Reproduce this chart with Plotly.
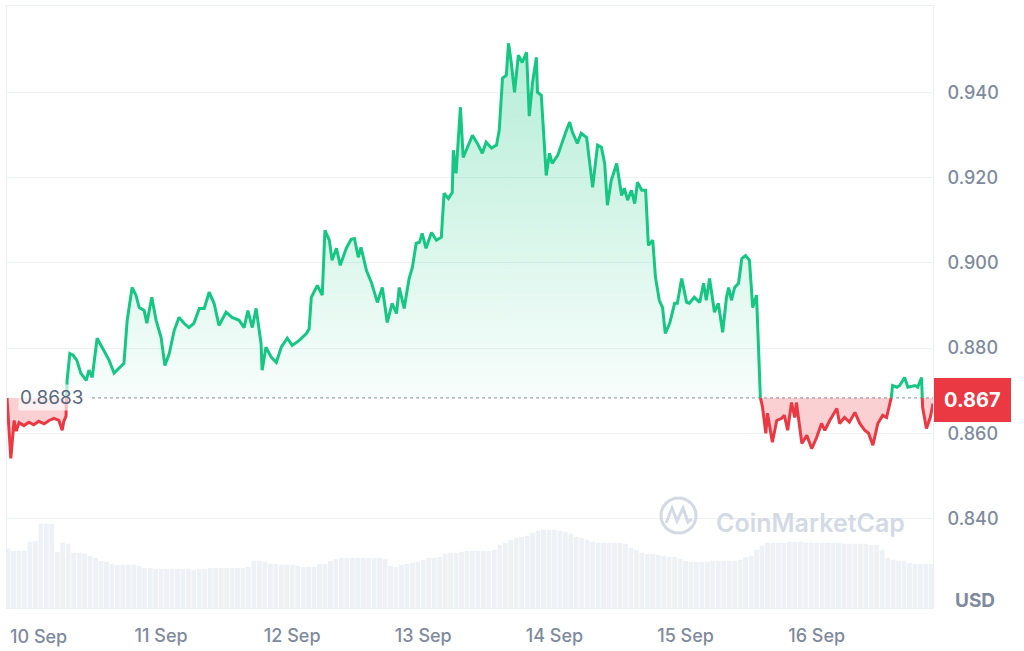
import pandas as pd
import plotly.graph_objects as go

# ---------------- data ----------------
# hours relative to 10 Sep 00:00 and price in USD
price_hours = [
    -4.2, -3.8, -3.5, -2.9, -2.5, -2.0, -1.1, -0.2, 0.7, 1.6, 2.6, 3.5, 4.4, 5.3, 5.9, 6.2, 6.6,
    6.8, 7.3, 7.9, 8.6, 9.3, 10.3, 10.8, 11.4, 12.3, 13.2, 13.9, 14.5, 15.4, 16.3, 17.2, 17.8,
    18.7, 19.4, 20.0, 20.9, 21.4, 22.3, 23.1, 24.0, 24.7, 25.5, 26.4, 27.3, 28.2, 29.1, 30.0,
    31.0, 31.9, 32.8, 33.7, 34.6, 35.9, 37.0, 38.3, 39.2, 39.9, 40.7, 41.4, 42.3, 42.5, 43.2,
    44.2, 45.1, 46.0, 47.1, 48.0, 49.3, 50.6, 51.1, 51.5, 52.6, 53.5, 54.0, 54.8, 55.3, 56.1,
    56.8, 57.9, 58.8, 59.4, 60.1, 60.6, 61.6, 62.5, 63.6, 64.5, 65.4, 66.3, 67.1, 67.6, 68.5,
    69.4, 70.0, 70.7, 71.3, 71.8, 72.5, 73.5, 74.4, 75.3, 75.8, 76.6, 77.3, 77.5, 78.0, 78.8,
    79.3, 80.1, 81.0, 81.9, 82.8, 83.5, 84.5, 85.4, 85.9, 86.5, 87.2, 87.6, 88.1, 88.7, 89.4,
    90.1, 90.9, 91.4, 92.0, 92.7, 92.9, 93.6, 94.5, 95.1, 95.6, 96.6, 97.5, 98.2, 98.8, 99.3,
    100.2, 100.9, 101.9, 103.0, 103.9, 104.6, 105.2, 105.7, 106.4, 107.4, 108.3, 108.8, 109.4,
    110.1, 110.7, 111.2, 112.0, 112.7, 113.2, 114.0, 114.5, 115.2, 115.8, 116.3, 117.1, 118.0,
    118.5, 119.3, 120.2, 120.7, 121.6, 122.6, 123.3, 123.8, 124.4, 125.3, 126.0, 126.8, 127.5,
    127.9, 128.4, 129.0, 129.7, 130.3, 131.0, 131.7, 132.3, 133.0, 133.7, 134.1, 134.7, 135.0,
    135.9, 136.7, 137.6, 138.1, 138.7, 139.4, 140.0, 140.3, 141.3, 142.2, 143.1, 144.0, 144.9,
    145.5, 146.4, 147.7, 148.2, 149.1, 150.0, 151.0, 151.9, 152.8, 153.5, 154.3, 155.2, 156.1,
    156.8, 157.6, 157.9, 158.7, 159.2, 160.1, 160.7, 162.0, 162.5, 163.2, 163.4, 164.1, 164.8,
    165.3,
]
prices = [
    0.8683, 0.8600, 0.8541, 0.8630, 0.8605, 0.8625, 0.8618, 0.8626, 0.8620, 0.8628, 0.8622, 0.8630, 0.8635, 0.8630, 0.8607, 0.8628, 0.8640,
    0.8724, 0.8787, 0.8783, 0.8771, 0.8741, 0.8724, 0.8748, 0.8731, 0.8823, 0.8802, 0.8787, 0.8771, 0.8741, 0.8752, 0.8764, 0.8865,
    0.8942, 0.8924, 0.8895, 0.8888, 0.8858, 0.8919, 0.8865, 0.8825, 0.8759, 0.8787, 0.8841, 0.8872, 0.8858, 0.8848, 0.8858,
    0.8893, 0.8893, 0.8931, 0.8905, 0.8853, 0.8884, 0.8872, 0.8865, 0.8848, 0.8888, 0.8848, 0.8893, 0.8811, 0.8748, 0.8802,
    0.8778, 0.8766, 0.8802, 0.8823, 0.8806, 0.8818, 0.8834, 0.8845, 0.8919, 0.8947, 0.8924, 0.9076, 0.9053, 0.9006, 0.9034,
    0.8994, 0.9034, 0.9055, 0.9057, 0.9013, 0.9036, 0.8982, 0.8954, 0.8907, 0.8942, 0.8860, 0.8905, 0.8881, 0.8942, 0.8893,
    0.8963, 0.8989, 0.9046, 0.9048, 0.9069, 0.9034, 0.9071, 0.9053, 0.9060, 0.9163, 0.9151, 0.9165, 0.9264, 0.9210, 0.9365,
    0.9247, 0.9271, 0.9299, 0.9280, 0.9257, 0.9283, 0.9269, 0.9276, 0.9311, 0.9433, 0.9440, 0.9515, 0.9470, 0.9400, 0.9487,
    0.9470, 0.9494, 0.9344, 0.9423, 0.9482, 0.9400, 0.9393, 0.9205, 0.9257, 0.9233, 0.9252, 0.9287, 0.9311, 0.9330, 0.9306,
    0.9280, 0.9304, 0.9294, 0.9177, 0.9276, 0.9271, 0.9233, 0.9135, 0.9193, 0.9233, 0.9158, 0.9175, 0.9147,
    0.9170, 0.9139, 0.9189, 0.9170, 0.9170, 0.9041, 0.9053, 0.8966, 0.8912, 0.8895, 0.8834, 0.8858, 0.8905,
    0.8905, 0.8963, 0.8907, 0.8905, 0.8919, 0.8907, 0.8952, 0.8912, 0.8963, 0.8884, 0.8905, 0.8837, 0.8919,
    0.8942, 0.8912, 0.8942, 0.8952, 0.9010, 0.9017, 0.9006, 0.8895, 0.8924, 0.8684, 0.8661, 0.8600, 0.8647,
    0.8579, 0.8630, 0.8635, 0.8642, 0.8607, 0.8672, 0.8637, 0.8672, 0.8576, 0.8595, 0.8564, 0.8590, 0.8623,
    0.8607, 0.8630, 0.8658, 0.8623, 0.8637, 0.8626, 0.8649, 0.8623, 0.8607, 0.8600, 0.8572, 0.8623, 0.8642,
    0.8637, 0.8677, 0.8712, 0.8708, 0.8712, 0.8731, 0.8708, 0.8712, 0.8708, 0.8731, 0.8661, 0.8611, 0.8637,
    0.8670,
]
baseline_price = 0.8683
start_day = "2024-09-10"

# hourly volume bars (hour offset from 10 Sep 00:00), relative units
vol_hours = list(range(-4, 166))
volumes = [
    59, 57, 57, 57, 66, 67, 84, 84, 84, 56, 65, 64, 55, 55, 54, 52, 50, 47, 46,
    44, 43, 43, 43, 43, 42,
    40, 40, 39, 39, 39, 39, 39, 39, 39, 38, 39, 39,
    40, 40, 40, 40, 40, 40, 40, 41,
    47, 47, 46, 44, 44, 43, 43, 43, 42, 41, 41, 41, 44, 44,
    47, 49, 50, 50, 50, 50, 50, 50, 50, 50, 49,
    42, 41, 43, 44, 45, 46, 48, 50, 50, 51, 54, 55, 55,
    56, 57, 57, 57, 57, 57, 58, 63, 65, 68, 70, 71, 72,
    75, 77, 78, 78, 78, 77, 76, 74, 71, 70, 68,
    66, 65, 65, 65, 65, 65, 64, 60, 58, 55, 54, 54, 53, 52, 51, 51, 49,
    47, 46, 46, 46, 46, 47, 47, 47, 47, 47, 48, 51, 52, 58, 62,
    65, 65, 65, 65, 66, 66, 66, 65, 65, 65,
    65, 65, 65, 65, 64, 64, 64, 64, 64, 63, 63,
    58, 50, 48, 47, 47, 45, 44, 44, 44, 44,
]
assert len(vol_hours) == len(volumes)
assert len(price_hours) == len(prices)

day_ticks = ["2024-09-10", "2024-09-11", "2024-09-12", "2024-09-13",
             "2024-09-14", "2024-09-15", "2024-09-16"]
day_labels = ["10 Sep", "11 Sep", "12 Sep", "13 Sep", "14 Sep", "15 Sep", "16 Sep"]
price_ticks = [0.84, 0.86, 0.88, 0.90, 0.92, 0.94]
price_tick_labels = ["0.840", "0.860", "0.880", "0.900", "0.920", "0.940"]

# ---------------- styling ----------------
GREEN = "#16C784"
RED = "#EA3943"
GRID = "#EFF2F5"
TICK = "#808A9D"
FONT = "Inter"

t0 = pd.Timestamp(start_day)
def to_time(h):
    return t0 + pd.to_timedelta(h, unit="h")

# insert baseline crossings so colours switch exactly at the baseline
xs, ys = [price_hours[0]], [prices[0]]
for i in range(1, len(prices)):
    h0, p0 = price_hours[i - 1], prices[i - 1]
    h1, p1 = price_hours[i], prices[i]
    if (p0 - baseline_price) * (p1 - baseline_price) < 0:
        hc = h0 + (baseline_price - p0) / (p1 - p0) * (h1 - h0)
        xs.append(hc)
        ys.append(baseline_price)
    xs.append(h1)
    ys.append(p1)

tx = [to_time(h) for h in xs]
up_line = [v if v >= baseline_price else None for v in ys]
dn_line = [v if v <= baseline_price else None for v in ys]
up_fill = [max(v, baseline_price) for v in ys]
dn_fill = [min(v, baseline_price) for v in ys]
base_arr = [baseline_price] * len(ys)

fig = go.Figure()

fig.add_trace(go.Bar(x=[to_time(h) for h in vol_hours], y=volumes, yaxis="y2",
                     marker=dict(color="#EEF1F5", line=dict(width=0))))

fig.add_trace(go.Scatter(x=tx, y=base_arr, mode="lines", line=dict(width=0)))
fig.add_trace(go.Scatter(x=tx, y=up_fill, mode="lines", line=dict(width=0), fill="tonexty",
                         fillcolor="rgba(22,199,132,0.15)",
                         fillgradient=dict(type="vertical",
                                           colorscale=[[0, "rgba(22,199,132,0.03)"],
                                                       [1, "rgba(22,199,132,0.32)"]],
                                           start=baseline_price, stop=max(prices))))
fig.add_trace(go.Scatter(x=tx, y=base_arr, mode="lines", line=dict(width=0)))
fig.add_trace(go.Scatter(x=tx, y=dn_fill, mode="lines", line=dict(width=0), fill="tonexty",
                         fillcolor="rgba(234,57,67,0.24)"))

fig.add_trace(go.Scatter(x=tx, y=up_line, mode="lines", connectgaps=False,
                         line=dict(color=GREEN, width=3)))
fig.add_trace(go.Scatter(x=tx, y=dn_line, mode="lines", connectgaps=False,
                         line=dict(color=RED, width=3)))

PW, PH, ML, MT = 926, 602, 7, 6
def px(x):
    return (x - ML) / PW
def py(y):
    return 1 - (y - MT) / PH

shapes = [
    dict(type="line", xref="paper", yref="y", x0=px(92), x1=1, y0=baseline_price, y1=baseline_price,
         line=dict(color="rgba(128,138,157,0.75)", width=1.2, dash="dot"), layer="below"),
    # watermark logo
    dict(type="circle", xref="paper", yref="paper", x0=px(661), x1=px(696), y0=py(533), y1=py(498),
         line=dict(color="#D3DAE6", width=3)),
    dict(type="path", xref="paper", yref="paper",
         path=f"M {px(666)} {py(523)} L {px(672)} {py(508)} L {px(677)} {py(521)} "
              f"L {px(683)} {py(508)} L {px(688)} {py(522)} L {px(692)} {py(519)}",
         line=dict(color="#D3DAE6", width=3)),
]

annotations = [
    dict(xref="paper", yref="y", x=0, y=baseline_price, xanchor="left", yanchor="middle",
         xshift=11, text=f"{baseline_price:.4f}", showarrow=False,
         bgcolor="rgba(255,255,255,0.65)",
         font=dict(family=FONT, size=19, color="#58667E")),
    dict(xref="paper", yref="y", x=1, y=prices[-1], xanchor="left", yanchor="middle",
         xshift=1, yshift=3, text=f"<b>{prices[-1]:.3f}</b>", showarrow=False,
         bgcolor=RED, bordercolor=RED, borderpad=9,
         font=dict(family=FONT, size=20, color="white")),
    dict(xref="paper", yref="paper", x=1, y=py(600), xanchor="left", yanchor="middle",
         xshift=20, text="<b>USD</b>", showarrow=False,
         font=dict(family=FONT, size=19, color=TICK)),
    dict(xref="paper", yref="paper", x=px(714), y=py(523), xanchor="left", yanchor="middle",
         text="CoinMarketCap", showarrow=False,
         font=dict(family=FONT, size=25, color="#D3DAE6", weight=600)),
    # first date label is kept inside the chart edge
    dict(xref="paper", yref="paper", x=0, y=0, xanchor="left", yanchor="top",
         xshift=1, yshift=-16, text=day_labels[0], showarrow=False,
         font=dict(family=FONT, size=18, color=TICK, weight=500)),
]

fig.update_layout(
    width=1024, height=651,
    margin=dict(l=ML, r=1024 - ML - PW, t=MT, b=651 - MT - PH, autoexpand=False),
    paper_bgcolor="white", plot_bgcolor="white",
    showlegend=False, hovermode=False, bargap=0.12,
    font=dict(family=FONT, color=TICK),
    xaxis=dict(type="date", range=[to_time(price_hours[0]), to_time(price_hours[-1])],
               tickvals=day_ticks[1:], ticktext=day_labels[1:], ticks="",
               showgrid=False, zeroline=False, showline=True, mirror=True,
               linecolor="#ECEFF3", linewidth=1, ticklabelstandoff=11, automargin=False,
               tickfont=dict(family=FONT, size=18, color=TICK, weight=500)),
    yaxis=dict(side="right", range=[0.8190, 0.96025], tickvals=price_ticks,
               ticktext=price_tick_labels, ticks="", showgrid=True, gridcolor=GRID,
               gridwidth=1, zeroline=False, showline=True, mirror=True, automargin=False,
               linecolor="#ECEFF3", linewidth=1, ticklabelstandoff=10,
               tickfont=dict(family=FONT, size=18, color=TICK, weight=500)),
    yaxis2=dict(overlaying="y", range=[0, max(volumes) / 0.14], visible=False),
    shapes=shapes, annotations=annotations,
)

fig.write_html("out.html", config={"displayModeBar": False},
               post_script="document.body.style.margin='0';document.body.style.padding='0';")
